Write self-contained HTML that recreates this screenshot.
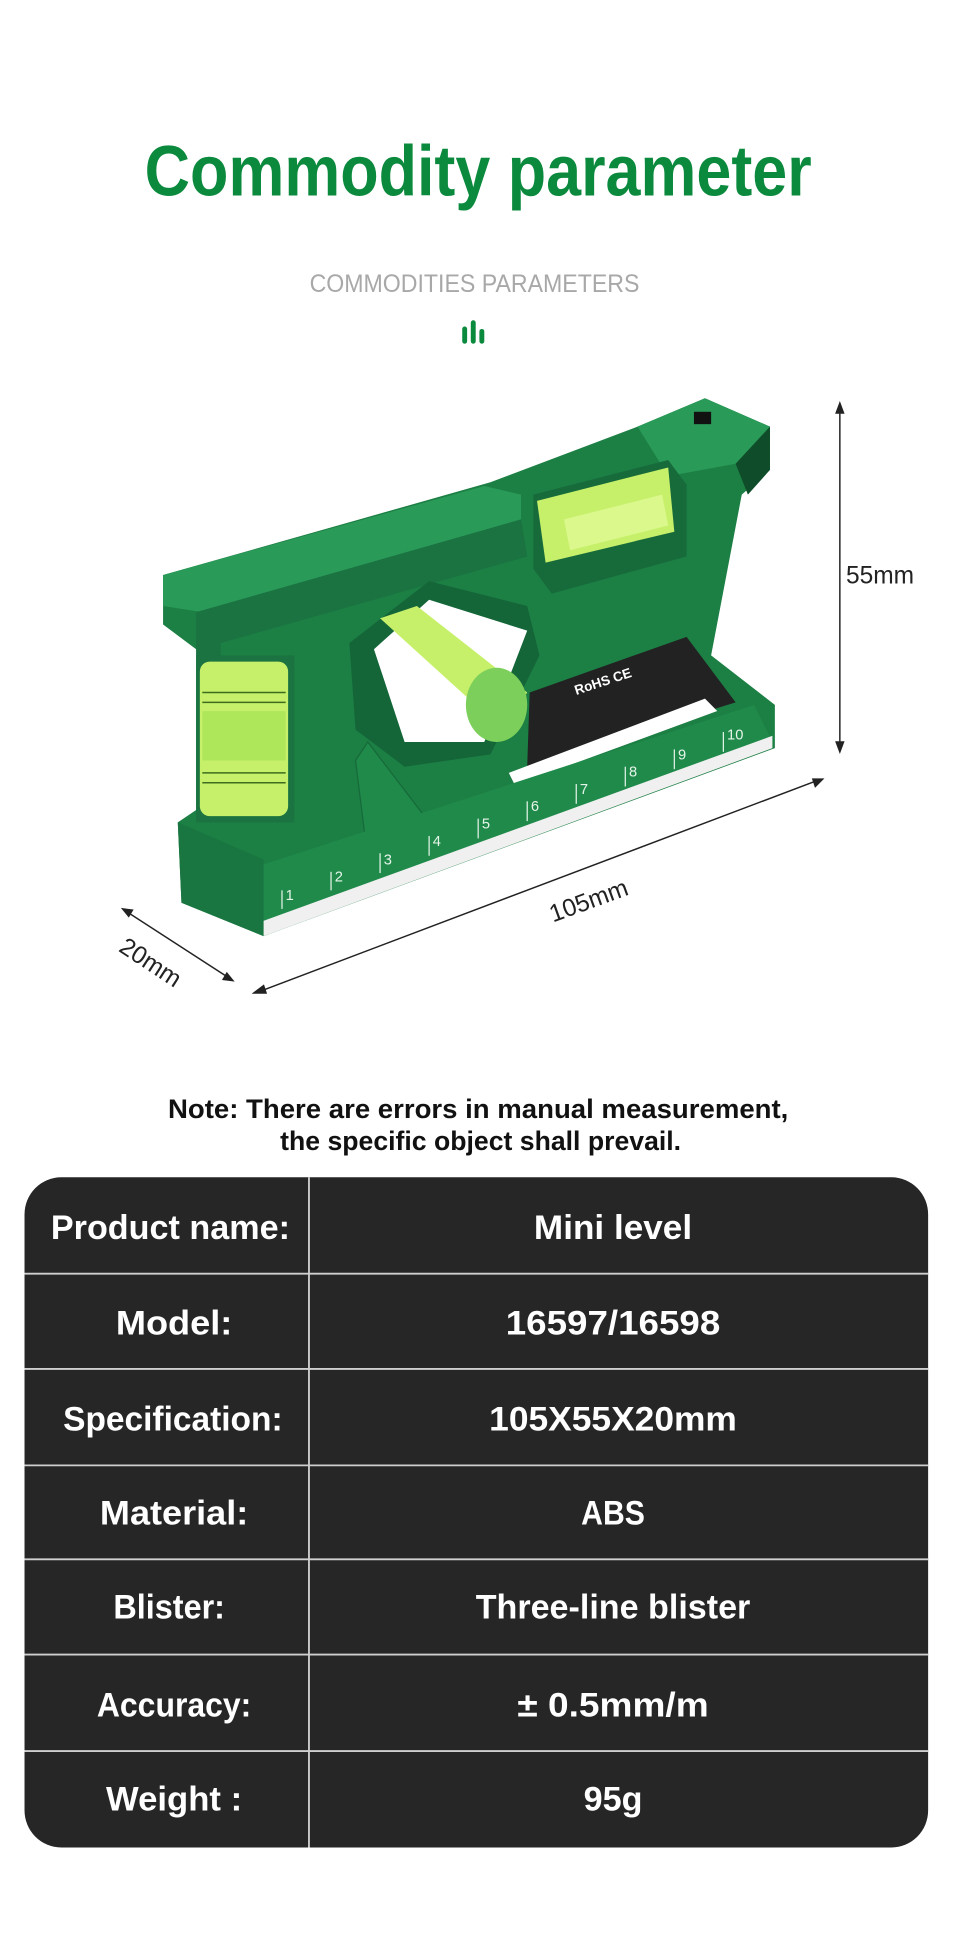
<!DOCTYPE html>
<html><head><meta charset="utf-8"><style>
html,body{margin:0;padding:0;background:#fff;}
svg{display:block;}
</style></head><body>
<svg width="960" height="1939" viewBox="0 0 783 1568" preserveAspectRatio="none" xmlns="http://www.w3.org/2000/svg" font-family="Liberation Sans, sans-serif">
<rect width="783" height="1568" fill="#fff"/>
<!-- title -->
<text x="390" y="158" text-anchor="middle" font-size="58" font-weight="bold" fill="#0b8a3e" textLength="544" lengthAdjust="spacingAndGlyphs">Commodity parameter</text>
<text x="387" y="236" text-anchor="middle" font-size="20" fill="#a8a8a8" textLength="269" lengthAdjust="spacingAndGlyphs">COMMODITIES PARAMETERS</text>
<g fill="#0b8a3e">
<rect x="377" y="264" width="4" height="14" rx="2"/>
<rect x="384" y="259" width="4" height="19" rx="2"/>
<rect x="391" y="266" width="4" height="12" rx="2"/>
</g>

<!-- level body -->
<g>
<polygon points="133,465 400,390 520,345 575,322 628,345 628,380 605,400 580,530 632,570 632,605 215,757 148,730 145,665 160,655 160,525 133,505" fill="#1c7f44"/>
<polygon points="133,465 395,393 425,400 425,420 165,495 133,490" fill="#2a9a58"/>
<polygon points="160,495 425,420 430,450 180,520 180,660 160,655" fill="#1a7340"/>
<polygon points="520,345 575,322 628,345 600,375 545,385" fill="#2a9a58"/>
<rect x="566" y="333" width="14" height="10" fill="#111"/>
<polygon points="600,375 628,345 628,380 610,400" fill="#0f4d2a"/>
<!-- top vial -->
<polygon points="435,400 545,372 560,392 560,450 450,480 435,460" fill="#176b3b"/>
<polygon points="438,405 545,378 550,430 445,455" fill="#c7f06a"/>
<polygon points="460,420 540,400 545,425 465,445" fill="#e4fb9c" opacity="0.7"/>
<!-- hexagon window -->
<polygon points="285,520 350,470 430,490 440,530 400,610 330,620 290,590" fill="#146538"/>
<polygon points="305,525 350,485 430,510 395,600 330,600" fill="#fff"/>
<polygon points="310,500 340,490 430,560 410,590" fill="#c7f06a"/>
<ellipse cx="405" cy="570" rx="25" ry="30" fill="#7ccf5a"/>
<!-- black plate -->
<polygon points="432,560 560,515 600,568 430,620" fill="#222"/>
<text x="470" y="562" font-size="11" font-weight="bold" fill="#fff" transform="rotate(-18 470 562)">RoHS  CE</text>
<polygon points="415,625 575,565 585,575 420,635" fill="#fff"/>
<!-- left vial -->
<rect x="160" y="530" width="80" height="135" fill="#1a7340"/>
<rect x="163" y="535" width="72" height="125" rx="8" fill="#c7f06a"/>
<rect x="165" y="575" width="68" height="40" fill="#aee85a"/>
<g stroke="#3c6d1f" stroke-width="1.2">
<line x1="165" y1="560" x2="233" y2="560"/><line x1="165" y1="568" x2="233" y2="568"/>
<line x1="165" y1="625" x2="233" y2="625"/><line x1="165" y1="633" x2="233" y2="633"/>
</g>
<!-- triangle emboss -->
<polygon points="290,615 300,600 350,665 300,695" fill="#1f8a4a" stroke="#166a39"/>
<!-- ruler -->
<polygon points="212,700 615,570 630,600 215,757" fill="#1f8a4a"/>
<polygon points="214,745 630,595 630,605 215,757" fill="#f0f0f0"/>
<g stroke="#e6f5ea" stroke-width="1">
<line x1="230" y1="735" x2="230" y2="720"/><line x1="270" y1="720" x2="270" y2="705"/>
<line x1="310" y1="706" x2="310" y2="690"/><line x1="350" y1="692" x2="350" y2="676"/>
<line x1="390" y1="678" x2="390" y2="662"/><line x1="430" y1="664" x2="430" y2="648"/>
<line x1="470" y1="650" x2="470" y2="634"/><line x1="510" y1="636" x2="510" y2="620"/>
<line x1="550" y1="622" x2="550" y2="606"/><line x1="590" y1="608" x2="590" y2="592"/>
</g>
<g font-size="12" fill="#e6f5ea">
<text x="233" y="728">1</text><text x="273" y="713">2</text><text x="313" y="699">3</text><text x="353" y="684">4</text><text x="393" y="670">5</text><text x="433" y="656">6</text><text x="473" y="642">7</text><text x="513" y="628">8</text><text x="553" y="614">9</text><text x="593" y="598">10</text>
</g>
<polygon points="145,665 215,695 215,757 148,730" fill="#197640"/>
</g>

<!-- dimensions -->
<g stroke="#222" stroke-width="1.2" fill="#222">
<line x1="685" y1="330" x2="685" y2="604"/>
<polygon points="685,326 682,334 688,334"/><polygon points="685,608 682,600 688,600"/>
<line x1="211" y1="802" x2="667" y2="631"/>
<polygon points="207,803 215,797 217,803"/><polygon points="671,630 663,630 665,636"/>
<line x1="103" y1="737" x2="187" y2="791"/>
<polygon points="100,735 108,736 105,741"/><polygon points="190,793 182,792 185,787"/>
</g>
<text x="690" y="472" font-size="20" fill="#222">55mm</text>
<text x="480" y="735" font-size="20" fill="#222" text-anchor="middle" transform="rotate(-20 480 728)">105mm</text>
<text x="123" y="785" font-size="20" fill="#222" text-anchor="middle" transform="rotate(33 123 778)">20mm</text>

<!-- note -->
<text x="390" y="904" text-anchor="middle" font-size="22" font-weight="bold" fill="#111" textLength="506" lengthAdjust="spacingAndGlyphs">Note: There are errors in manual measurement,</text>
<text x="392" y="930" text-anchor="middle" font-size="22" font-weight="bold" fill="#111" textLength="327" lengthAdjust="spacingAndGlyphs">the specific object shall prevail.</text>

<!-- table -->
<rect x="20" y="952" width="737" height="542" rx="30" fill="#262626"/>
<g stroke="#cfcfcf" stroke-width="1.5">
<line x1="252" y1="952" x2="252" y2="1494"/>
<line x1="20" y1="1030" x2="757" y2="1030"/>
<line x1="20" y1="1107" x2="757" y2="1107"/>
<line x1="20" y1="1185" x2="757" y2="1185"/>
<line x1="20" y1="1261" x2="757" y2="1261"/>
<line x1="20" y1="1338" x2="757" y2="1338"/>
<line x1="20" y1="1416" x2="757" y2="1416"/>
</g>
<g font-size="28" font-weight="bold" fill="#fff" text-anchor="middle">
<text x="139" y="1002" textLength="195" lengthAdjust="spacingAndGlyphs">Product name:</text>
<text x="500" y="1002" textLength="129" lengthAdjust="spacingAndGlyphs">Mini level</text>
<text x="142" y="1079" textLength="95" lengthAdjust="spacingAndGlyphs">Model:</text>
<text x="500" y="1079" textLength="175" lengthAdjust="spacingAndGlyphs">16597/16598</text>
<text x="141" y="1157" textLength="179" lengthAdjust="spacingAndGlyphs">Specification:</text>
<text x="500" y="1157" textLength="202" lengthAdjust="spacingAndGlyphs">105X55X20mm</text>
<text x="142" y="1233" textLength="121" lengthAdjust="spacingAndGlyphs">Material:</text>
<text x="500" y="1233" textLength="52" lengthAdjust="spacingAndGlyphs">ABS</text>
<text x="138" y="1309" textLength="91" lengthAdjust="spacingAndGlyphs">Blister:</text>
<text x="500" y="1309" textLength="224" lengthAdjust="spacingAndGlyphs">Three-line blister</text>
<text x="142" y="1388" textLength="126" lengthAdjust="spacingAndGlyphs">Accuracy:</text>
<text x="500" y="1388" textLength="156" lengthAdjust="spacingAndGlyphs">± 0.5mm/m</text>
<text x="142" y="1464" textLength="111" lengthAdjust="spacingAndGlyphs">Weight :</text>
<text x="500" y="1464" textLength="48" lengthAdjust="spacingAndGlyphs">95g</text>
</g>
</svg>
</body></html>
